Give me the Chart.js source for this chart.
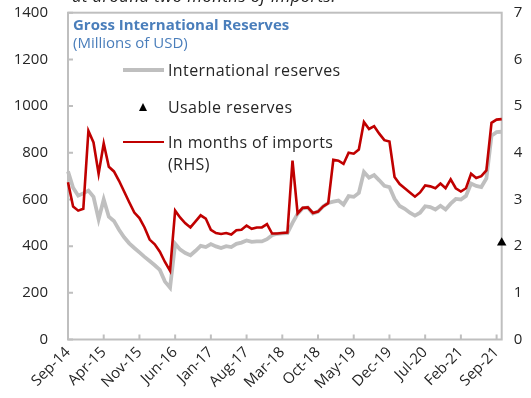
<!DOCTYPE html>
<html>
<head>
<meta charset="utf-8">
<script src="https://cdn.jsdelivr.net/npm/chart.js@4.4.0/dist/chart.umd.min.js"></script>
<style>
body{margin:0;background:#fff;font-family:'Open Sans',sans-serif;}
#wrap{position:relative;width:531px;height:398px;overflow:hidden;}
#c{position:absolute;left:0;top:0;}
.note{position:absolute;left:72px;top:-14px;font-size:17px;line-height:20px;letter-spacing:0.3px;font-style:italic;color:#222;white-space:nowrap;}
.ttl{position:absolute;left:73px;top:14px;font-size:15px;line-height:20px;font-weight:bold;color:#4A7EBB;white-space:nowrap;}
.sub{position:absolute;left:73px;top:32px;font-size:15px;line-height:20px;color:#4A7EBB;white-space:nowrap;}
.lt{position:absolute;left:168px;font-size:16px;line-height:20px;letter-spacing:0.4px;color:#262626;white-space:nowrap;}
.sw{position:absolute;left:123px;width:41px;}
.tri{position:absolute;left:139px;top:103px;width:0;height:0;border-left:4.5px solid transparent;border-right:4.5px solid transparent;border-bottom:8px solid #000;}
</style>
</head>
<body>
<div id="wrap">
  <canvas id="c" width="531" height="398"></canvas>
  <div class="note">at around two months of imports.</div>
  <div class="ttl">Gross International Reserves</div>
  <div class="sub">(Millions of USD)</div>
  <div class="sw" style="top:68px;height:4px;background:#BFBFBF"></div>
  <div class="lt" style="top:60px">International reserves</div>
  <div class="tri"></div>
  <div class="lt" style="top:97px">Usable reserves</div>
  <div class="sw" style="top:140.5px;height:2.6px;background:#C00000"></div>
  <div class="lt" style="top:132px">In months of imports</div>
  <div class="lt" style="top:154px">(RHS)</div>
</div>
<script>
// ===== DATA =====
const months=['Sep-14','Oct-14','Nov-14','Dec-14',
  'Jan-15','Feb-15','Mar-15','Apr-15','May-15','Jun-15','Jul-15','Aug-15','Sep-15','Oct-15','Nov-15','Dec-15',
  'Jan-16','Feb-16','Mar-16','Apr-16','May-16','Jun-16','Jul-16','Aug-16','Sep-16','Oct-16','Nov-16','Dec-16',
  'Jan-17','Feb-17','Mar-17','Apr-17','May-17','Jun-17','Jul-17','Aug-17','Sep-17','Oct-17','Nov-17','Dec-17',
  'Jan-18','Feb-18','Mar-18','Apr-18','May-18','Jun-18','Jul-18','Aug-18','Sep-18','Oct-18','Nov-18','Dec-18',
  'Jan-19','Feb-19','Mar-19','Apr-19','May-19','Jun-19','Jul-19','Aug-19','Sep-19','Oct-19','Nov-19','Dec-19',
  'Jan-20','Feb-20','Mar-20','Apr-20','May-20','Jun-20','Jul-20','Aug-20','Sep-20','Oct-20','Nov-20','Dec-20',
  'Jan-21','Feb-21','Mar-21','Apr-21','May-21','Jun-21','Jul-21','Aug-21','Sep-21','Oct-21'];
const tickLabels=['Sep-14','Apr-15','Nov-15','Jun-16','Jan-17','Aug-17','Mar-18','Oct-18','May-19','Dec-19','Jul-20','Feb-21','Sep-21'];
// millions of USD (LHS)
const intlReserves=[720,650,616,626,638,611,515,600,526,508,
  470,438,412,392,373,354,336,318,298,248,
  222,410,385,370,361,380,401,396,409,399,
  392,400,396,410,415,424,418,420,420,430,
  447,453,455,456,500,538,562,565,540,548,
  570,585,591,595,578,614,611,628,718,693,
  704,682,658,653,603,572,560,543,531,543,
  571,567,557,573,557,582,602,600,615,668,
  658,653,690,873,888,890];
// months of imports (RHS)
const importMonths=[3.37,2.85,2.76,2.80,4.47,4.22,3.55,4.20,3.70,3.60,
  3.40,3.17,2.94,2.72,2.60,2.40,2.14,2.04,1.88,1.66,
  1.47,2.76,2.61,2.49,2.40,2.53,2.66,2.59,2.35,2.28,
  2.26,2.28,2.25,2.34,2.35,2.44,2.37,2.40,2.40,2.47,
  2.27,2.27,2.28,2.29,3.83,2.70,2.82,2.83,2.71,2.74,
  2.85,2.92,3.85,3.83,3.76,4.00,3.98,4.07,4.66,4.51,
  4.57,4.41,4.27,4.24,3.48,3.33,3.24,3.15,3.06,3.15,
  3.30,3.28,3.24,3.34,3.24,3.43,3.24,3.17,3.24,3.55,
  3.46,3.50,3.62,4.64,4.71,4.72];
const usableMonths=['Oct-21'];
const usableReserves=[415];

// ===== STYLE =====
const GREY='#BFBFBF',RED='#C00000',AXIS='#BFBFBF',TXT='#262626';
const FONT="'Open Sans',sans-serif";

// plot frame + inward tick marks
const frame={id:'frame',
  beforeDatasetsDraw(chart){
    const {ctx,chartArea:a,scales:{x,y}}=chart;
    ctx.save();
    ctx.strokeStyle=AXIS;ctx.lineWidth=2;
    ctx.strokeRect(a.left,a.top,a.right-a.left,a.bottom-a.top);
    ctx.beginPath();
    tickLabels.forEach(l=>{const px=x.getPixelForValue(months.indexOf(l));ctx.moveTo(px,a.bottom);ctx.lineTo(px,a.bottom-5);});
    y.ticks.forEach(t=>{const py=y.getPixelForValue(t.value);ctx.moveTo(a.left,py);ctx.lineTo(a.left+5,py);});
    ctx.stroke();
    ctx.restore();
  }};

// hidden tick marks give the label gap without adding top padding
const sideGrid=len=>({display:true,drawOnChartArea:false,drawTicks:true,tickLength:len,color:'transparent',tickColor:'transparent'});

new Chart(document.getElementById('c'),{
  type:'line',
  data:{labels:months,datasets:[
    {label:'Usable reserves',data:usableMonths.map((m,i)=>({x:m,y:usableReserves[i]})),yAxisID:'y',showLine:false,
      pointStyle:'triangle',pointRadius:5.5,backgroundColor:'#000',borderColor:'#000',borderWidth:0,clip:false,order:0},
    {label:'In months of imports (RHS)',data:importMonths,yAxisID:'y1',borderColor:RED,borderWidth:2.6,pointRadius:0,tension:0,clip:false,order:1},
    {label:'International reserves',data:intlReserves,yAxisID:'y',borderColor:GREY,borderWidth:3.8,pointRadius:0,tension:0,clip:false,order:2}
  ]},
  options:{responsive:false,animation:false,
    layout:{padding:{top:12.7,left:0,right:0,bottom:0}},
    plugins:{legend:{display:false},tooltip:{enabled:false}},
    scales:{
      x:{type:'category',offset:false,
        grid:{display:false,drawTicks:false},border:{display:false},
        ticks:{autoSkip:false,maxRotation:45,minRotation:45,padding:4,color:TXT,font:{family:FONT,size:15},
          callback:(v,i)=>tickLabels.includes(months[i])?months[i]:''},
        afterFit(s){s.height=58.5;}},
      y:{position:'left',min:0,max:1400,
        grid:sideGrid(20),border:{display:false},
        ticks:{stepSize:200,padding:0,color:TXT,font:{family:FONT,size:15},callback:v=>String(v)},
        afterFit(s){s.width=68;}},
      y1:{position:'right',min:0,max:7,
        grid:sideGrid(12),border:{display:false},
        ticks:{stepSize:1,padding:0,color:TXT,font:{family:FONT,size:15},callback:v=>String(v)},
        afterFit(s){s.width=29.3;}}
    }},
  plugins:[frame]
});
</script>
</body>
</html>
